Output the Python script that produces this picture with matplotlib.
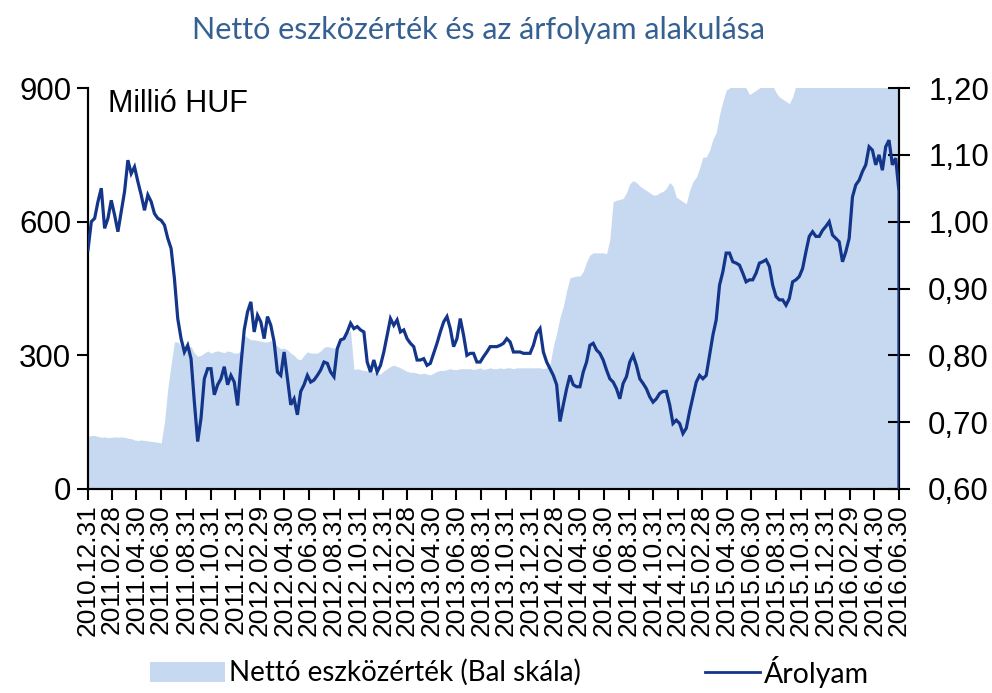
import matplotlib
matplotlib.use("Agg")
import matplotlib.pyplot as plt
import numpy as np
import pandas as pd
from matplotlib.patches import Rectangle
from matplotlib.lines import Line2D

# ---------------- data ----------------
start_date = "2010-12-31"
end_date = "2016-06-30"

price = [
    0.958,1.000,1.005,1.030,1.050,0.990,1.005,1.032,1.010,0.985,
    1.015,1.045,1.092,1.072,1.082,1.060,1.040,1.017,1.040,1.030,
    1.012,1.005,1.002,0.995,0.975,0.960,0.915,0.855,0.825,0.805,
    0.815,0.795,0.730,0.671,0.706,0.765,0.780,0.780,0.741,0.756,
    0.765,0.783,0.756,0.770,0.760,0.725,0.785,0.838,
    0.865,0.880,0.835,0.860,0.850,0.825,0.858,0.845,0.820,0.775,
    0.770,0.805,0.765,0.726,0.735,0.711,0.746,0.756,0.770,0.760,
    0.763,0.770,0.778,0.790,0.788,0.775,0.768,0.810,0.823,0.825,
    0.835,0.848,0.840,0.843,0.838,0.835,0.790,0.775,0.793,0.775,
    0.785,0.805,0.830,0.855,0.845,0.853,0.835,0.838,
    0.825,0.818,0.813,0.793,0.793,0.795,0.785,0.788,0.803,0.818,
    0.835,0.850,0.858,0.840,0.813,0.825,0.855,0.830,0.800,0.803,
    0.803,0.790,0.790,0.798,0.805,0.813,0.813,0.813,0.815,0.818,
    0.825,0.820,0.805,0.805,0.805,0.803,0.803,0.803,0.815,0.833,
    0.840,0.805,0.790,0.780,0.770,0.756,0.701,0.726,
    0.750,0.770,0.756,0.753,0.753,0.775,0.790,0.815,0.818,0.808,
    0.803,0.793,0.778,0.765,0.760,0.750,0.735,0.758,0.768,0.790,
    0.800,0.785,0.765,0.758,0.750,0.738,0.730,0.735,0.743,0.746,
    0.746,0.726,0.698,0.703,0.698,0.683,0.691,0.716,0.738,0.760,
    0.770,0.765,0.770,0.800,0.830,0.853,0.905,0.925,
    0.953,0.953,0.940,0.938,0.935,0.923,0.910,0.913,0.913,0.923,
    0.938,0.940,0.943,0.933,0.905,0.888,0.883,0.883,0.875,0.885,
    0.910,0.913,0.918,0.930,0.955,0.978,0.985,0.978,0.978,0.987,
    0.993,1.000,0.980,0.975,0.970,0.940,0.955,0.975,1.037,1.055,
    1.062,1.075,1.085,1.112,1.107,1.085,1.100,1.077,1.112,1.122,
    1.085,1.095,1.045,
]
price_last = 0.0  # series falls to zero on the final day

nav = [
    118,120,120,118,116,117,115,116,117,116,
    117,116,114,113,110,109,110,109,108,107,
    106,105,103,150,225,280,330,330,320,315,
    318,320,305,298,300,305,310,305,308,310,
    308,306,310,308,305,305,310,345,
    340,335,335,333,332,330,330,333,330,320,
    315,316,312,305,300,292,290,300,308,305,
    305,305,310,318,320,318,316,316,330,345,
    350,355,268,270,268,266,265,263,262,260,
    258,265,270,275,278,275,272,268,
    264,262,262,260,258,260,258,256,260,264,
    266,266,268,270,268,268,270,270,270,270,
    268,270,272,268,270,272,270,270,272,270,
    272,272,270,272,272,272,272,272,272,272,
    272,270,272,280,320,350,385,410,
    445,474,476,478,478,488,510,525,530,530,
    530,530,528,560,645,648,650,652,665,685,
    692,688,680,675,670,665,660,660,665,668,
    675,688,680,655,650,645,640,670,690,700,
    720,745,745,760,785,800,840,870,
    895,900,905,905,905,905,900,885,890,895,
    900,905,905,905,905,890,880,875,870,865,
    880,905,905,905,905,905,905,905,905,905,
    905,905,905,905,905,905,905,905,905,905,
    905,905,905,905,905,905,905,905,905,905,
    905,905,905,
]

tick_dates = pd.date_range(start_date, end_date, freq="2ME")
tick_labels = [d.strftime("%Y.%m.%d") for d in tick_dates]

left_ticks = [0, 300, 600, 900]
right_ticks = [0.60, 0.70, 0.80, 0.90, 1.00, 1.10, 1.20]
right_labels = ["0,60", "0,70", "0,80", "0,90", "1,00", "1,10", "1,20"]

title = "Nettó eszközérték és az árfolyam alakulása"
unit_label = "Millió HUF"
legend_nav = "Nettó eszközérték (Bal skála)"
legend_price = "Árolyam"

# ---------------- style ----------------
fill_color = "#C6D9F0"
line_color = "#13358A"
title_color = "#366092"
narrow = ["Lato", "DejaVu Sans"]
plt.rcParams["font.family"] = ["Liberation Sans", "DejaVu Sans"]

dates = pd.date_range(start_date, end_date, periods=len(price))
price_dates = dates.append(pd.DatetimeIndex([dates[-1]]))
price_all = list(price) + [price_last]

fig = plt.figure(figsize=(9.92, 6.93), dpi=100)
ax = fig.add_axes([88/992, 1-489/693, (899-88)/992, (489-88)/693])
ax2 = ax.twinx()

ax.fill_between(dates, 0, nav, color=fill_color, linewidth=0, zorder=1)
ax2.plot(price_dates, price_all, color=line_color, lw=2.3, zorder=3,
         solid_joinstyle="miter")

ax.set_xlim(dates[0], dates[-1])
ax.set_ylim(0, 900)
ax2.set_ylim(0.6, 1.2)

ax.set_yticks(left_ticks)
ax.set_yticklabels([str(v) for v in left_ticks], fontsize=22.5)
ax2.set_yticks(right_ticks)
ax2.set_yticklabels(right_labels, fontsize=22.5)

ax.set_xticks(tick_dates)
ax.set_xticklabels(tick_labels, rotation=90, fontsize=19, va="top")

ax.tick_params(axis="y", direction="out", length=8, width=1.5, pad=4)
ax.tick_params(axis="x", direction="out", length=8, width=1.5, pad=3)
ax2.tick_params(axis="y", direction="inout", length=16, width=1.5, pad=13)

for a in (ax, ax2):
    a.spines["top"].set_visible(False)
    for s in ("left", "right", "bottom"):
        a.spines[s].set_linewidth(1.5)
        a.spines[s].set_color("black")
ax.set_zorder(ax2.get_zorder() - 1)
ax2.patch.set_visible(False)

ax.text(0.025, 0.997, unit_label, transform=ax.transAxes, fontsize=22,
        va="top", ha="left")

fig.text(0.482, 0.957, title, fontsize=22, color=title_color,
         ha="center", va="center", family=narrow)

# legend (manual)
fig.patches.append(Rectangle((150/992, 1-682/693), 75/992, 20/693,
                             transform=fig.transFigure, facecolor=fill_color,
                             edgecolor="none"))
fig.text(229/992, 1-672/693, legend_nav, fontsize=20, ha="left",
         va="center", family=narrow)
fig.lines.append(Line2D([705/992, 760/992], [1-672/693, 1-672/693],
                        transform=fig.transFigure, color=line_color, lw=2))
fig.text(764/992, 1-672/693, legend_price, fontsize=20.5, ha="left",
         va="center", family=narrow)

fig.savefig("out.png", dpi=100)
